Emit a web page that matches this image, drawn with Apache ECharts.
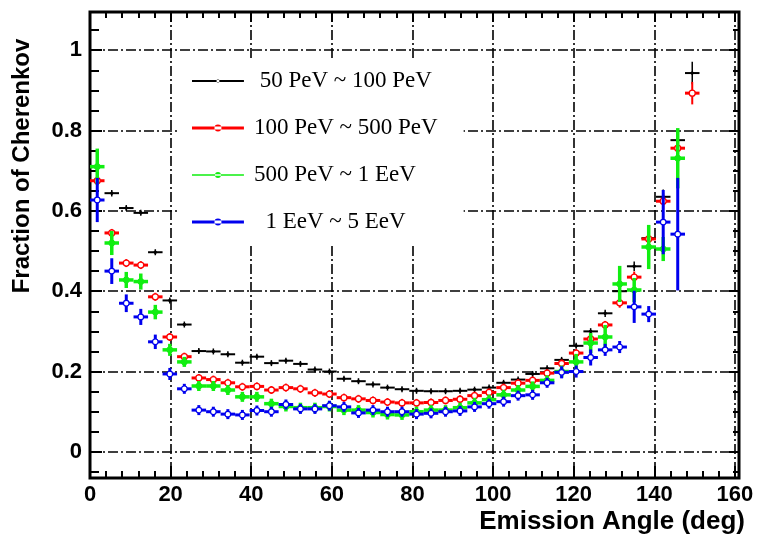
<!DOCTYPE html>
<html>
<head>
<meta charset="utf-8">
<script src="https://cdn.jsdelivr.net/npm/echarts@6/dist/echarts.min.js"></script>
<style>html,body{margin:0;padding:0;background:#fff}#c{width:757px;height:539px}</style>
</head>
<body>
<div id="c"></div>
<script>
// Bin centres (deg) and bin width
const angles = [1.8,5.4,9,12.6,16.2,19.8,23.4,27,30.6,34.2,37.8,41.4,45,48.6,52.2,55.8,59.4,63,66.6,70.2,73.8,77.4,81,84.6,88.2,91.8,95.4,99,102.6,106.2,109.8,113.4,117,120.6,124.2,127.8,131.4,135,138.6,142.2,145.8,149.4];
const binWidth = 3.6;

const seriesNames = ['50 PeV ~ 100 PeV', '100 PeV ~ 500 PeV', '500 PeV ~ 1 EeV', '1 EeV ~ 5 EeV'];
const legendLabels = [' 50 PeV ~ 100 PeV', '100 PeV ~ 500 PeV', '500 PeV ~ 1 EeV', '  1 EeV ~ 5 EeV'];

const black = [null,0.644,0.607,0.595,0.497,0.377,0.317,0.251,0.250,0.243,0.222,0.237,0.221,0.227,0.219,0.205,0.200,0.182,0.176,0.168,0.160,0.156,0.152,0.151,0.151,0.152,0.155,0.160,0.172,0.180,0.194,0.208,0.229,0.264,0.300,0.345,0.400,0.462,0.532,0.635,0.776,0.943];
const blackErr = [0,0.008,0.007,0.007,0.007,0.006,0.005,0.004,0.004,0.004,0.004,0.004,0.004,0.004,0.004,0.004,0.004,0.004,0.004,0.004,0.004,0.004,0.004,0.004,0.004,0.004,0.004,0.004,0.004,0.004,0.005,0.005,0.006,0.007,0.008,0.009,0.010,0.012,0.015,0.018,0.022,0.028];

const red = [0.675,0.545,0.470,0.465,0.386,0.286,0.237,0.184,0.180,0.172,0.162,0.163,0.154,0.160,0.157,0.147,0.144,0.135,0.132,0.128,0.124,0.122,0.122,0.123,0.128,0.131,0.140,0.148,0.160,0.171,0.178,0.196,0.220,0.246,0.281,0.316,0.371,0.435,0.530,0.624,0.756,0.893];
const redErr = [0.012,0.010,0.008,0.008,0.007,0.006,0.005,0.005,0.005,0.005,0.005,0.005,0.005,0.005,0.005,0.005,0.005,0.005,0.005,0.005,0.005,0.005,0.005,0.005,0.005,0.005,0.005,0.005,0.005,0.005,0.006,0.006,0.007,0.008,0.009,0.010,0.012,0.014,0.016,0.020,0.024,0.028];

const green = [0.710,0.520,0.428,0.424,0.348,0.254,0.224,0.164,0.164,0.154,0.137,0.137,0.120,0.113,0.110,0.110,0.113,0.104,0.104,0.098,0.093,0.092,0.100,0.104,0.104,0.110,0.122,0.130,0.142,0.154,0.163,0.178,0.200,0.224,0.271,0.286,0.418,0.403,0.510,0.505,0.731,null];
const greenErr = [0.045,0.030,0.020,0.020,0.018,0.015,0.012,0.010,0.010,0.010,0.008,0.008,0.008,0.008,0.008,0.008,0.008,0.008,0.008,0.008,0.008,0.008,0.008,0.008,0.008,0.008,0.008,0.008,0.008,0.008,0.010,0.012,0.015,0.020,0.025,0.030,0.045,0.030,0.055,0.030,0.075,0];

const blue = [0.627,0.450,0.370,0.336,0.274,0.194,0.157,0.104,0.100,0.094,0.092,0.103,0.100,0.118,0.107,0.107,0.115,0.112,0.097,0.104,0.100,0.100,0.094,0.096,0.100,0.102,0.112,0.120,0.125,0.140,0.142,0.172,0.198,0.200,0.235,0.254,0.261,0.361,0.343,0.572,0.542,null];
const blueErr = [0.055,0.032,0.022,0.020,0.018,0.015,0.012,0.008,0.008,0.008,0.008,0.008,0.008,0.008,0.008,0.008,0.008,0.008,0.008,0.008,0.008,0.008,0.008,0.008,0.008,0.008,0.008,0.008,0.008,0.008,0.010,0.012,0.015,0.015,0.020,0.015,0.015,0.040,0.020,0.080,0.140,0];

function toData(vals, errs) {
  const out = [];
  for (let i = 0; i < angles.length; i++) {
    if (vals[i] !== null) out.push([angles[i], vals[i], errs[i]]);
  }
  return out;
}

function makeRender(cfg) {
  return function (params, api) {
    const x = api.value(0), y = api.value(1), e = api.value(2);
    const l = api.coord([x - binWidth / 2, y]);
    const r = api.coord([x + binWidth / 2, y]);
    const c = api.coord([x, y]);
    const t = api.coord([x, y + e]);
    const b = api.coord([x, y - e]);
    const top = Math.min(t[1], c[1] - cfg.minBar);
    const bot = Math.max(b[1], c[1] + cfg.minBar);
    const children = [
      { type: 'line', shape: { x1: l[0], y1: c[1], x2: r[0], y2: c[1] }, style: { stroke: cfg.color, lineWidth: cfg.hw } },
      { type: 'line', shape: { x1: c[0], y1: top, x2: c[0], y2: bot }, style: { stroke: cfg.color, lineWidth: cfg.vw } },
      { type: 'circle', shape: { cx: c[0], cy: c[1], r: cfg.r }, style: { fill: cfg.fill, stroke: cfg.color, lineWidth: cfg.mw } }
    ];
    return { type: 'group', children: children };
  };
}

const cfgs = [
  { color: '#000000', fill: '#000000', hw: 2, vw: 1.5, r: 1.3, mw: 1, minBar: 3 },
  { color: '#ff0000', fill: '#ffffff', hw: 3, vw: 2, r: 3, mw: 1.3, minBar: 4 },
  { color: '#11ee11', fill: '#11ee11', hw: 3.5, vw: 3.5, r: 3, mw: 1, minBar: 5 },
  { color: '#0000ee', fill: '#ffffff', hw: 3, vw: 3, r: 2.8, mw: 1.2, minBar: 5 }
];
const values = [[black, blackErr], [red, redErr], [green, greenErr], [blue, blueErr]];

const icons = [
  'path://M0,0h0.01v0.01h-0.01z M0,3H52V5H0Z M24.5,4a1.5,1.5 0 1,0 3,0a1.5,1.5 0 1,0 -3,0Z M52,8h0.01v0.01h-0.01z',
  'path://M0,0h0.01v0.01h-0.01z M0,2.5H52V5.5H0Z M22.5,4a3.5,3.5 0 1,0 7,0a3.5,3.5 0 1,0 -7,0Z M52,8h0.01v0.01h-0.01z',
  'path://M0,0h0.01v0.01h-0.01z M0,3.2H52V4.8H0Z M23,4a3,3 0 1,0 6,0a3,3 0 1,0 -6,0Z M52,8h0.01v0.01h-0.01z',
  'path://M0,0h0.01v0.01h-0.01z M0,2.5H52V5.5H0Z M22.5,4a3.5,3.5 0 1,0 7,0a3.5,3.5 0 1,0 -7,0Z M52,8h0.01v0.01h-0.01z'
];

const series = seriesNames.map(function (name, i) {
  return {
    name: name,
    type: 'custom',
    renderItem: makeRender(cfgs[i]),
    encode: { x: 0, y: 1 },
    itemStyle: { color: cfgs[i].color },
    clip: true,
    data: toData(values[i][0], values[i][1]),
    z: 3 + i
  };
});

const tickLabelStyle = { color: '#000', fontFamily: 'Liberation Sans', fontWeight: 'bold', fontSize: 22 };
const gridLine = { show: true, lineStyle: { color: '#000', width: 1.6, type: [10, 3, 2, 3] } };

const option = {
  animation: false,
  backgroundColor: '#ffffff',
  grid: { left: 90, right: 18, top: 12, bottom: 61, show: true, borderColor: '#000', borderWidth: 3 },
  xAxis: [
    {
      type: 'value', min: 0, max: 161, interval: 20, position: 'bottom',
      axisLine: { show: false, onZero: false },
      axisTick: { show: true, inside: true, length: 12, lineStyle: { color: '#000', width: 2 } },
      minorTick: { show: true, splitNumber: 5, length: 7, lineStyle: { color: '#000', width: 2 } },
      axisLabel: Object.assign({ showMaxLabel: false, margin: 6 }, tickLabelStyle),
      splitLine: gridLine
    },
    {
      type: 'value', min: 0, max: 161, interval: 20, position: 'top',
      axisLine: { show: false, onZero: false },
      axisTick: { show: true, inside: true, length: 10, lineStyle: { color: '#000', width: 2 } },
      minorTick: { show: true, splitNumber: 5, length: 6, lineStyle: { color: '#000', width: 2 } },
      axisLabel: { show: false },
      splitLine: { show: false }
    }
  ],
  yAxis: [
    {
      type: 'value', min: -0.065, max: 1.095, position: 'left',
      axisLine: { show: false, onZero: false },
      axisTick: { show: true, inside: true, length: 12, lineStyle: { color: '#000', width: 2 } },
      minorTick: { show: true, splitNumber: 4, length: 9, lineStyle: { color: '#000', width: 2 } },
      axisLabel: Object.assign({ showMinLabel: false, showMaxLabel: false, margin: 8 }, tickLabelStyle),
      splitLine: gridLine
    },
    {
      type: 'value', min: -0.065, max: 1.095, position: 'right',
      axisLine: { show: false, onZero: false },
      axisTick: { show: true, inside: true, length: 10, lineStyle: { color: '#000', width: 2 } },
      minorTick: { show: true, splitNumber: 4, length: 6, lineStyle: { color: '#000', width: 2 } },
      axisLabel: { show: false },
      splitLine: { show: false }
    }
  ],
  legend: {
    left: 178, top: 58, orient: 'vertical',
    padding: [11, 26, 11, 14],
    backgroundColor: '#ffffff',
    itemWidth: 52, itemHeight: 8, itemGap: 23,
    selectedMode: false,
    formatter: function (name) { return legendLabels[seriesNames.indexOf(name)]; },
    textStyle: { fontFamily: 'Liberation Serif', fontSize: 23, lineHeight: 24, color: '#000', padding: [0, 0, 0, 5] },
    data: seriesNames.map(function (n, i) { return { name: n, icon: icons[i], itemStyle: { color: cfgs[i].color } }; })
  },
  graphic: [
    { type: 'text', x: 22, y: 166, rotation: Math.PI / 2,
      style: { text: 'Fraction of Cherenkov', font: 'bold 24px "Liberation Sans"', fill: '#000', align: 'center', verticalAlign: 'middle' } },
    { type: 'text', x: 745, y: 522,
      style: { text: 'Emission Angle (deg)', font: 'bold 26px "Liberation Sans"', fill: '#000', align: 'right', verticalAlign: 'middle' } }
  ],
  series: series
};

const chart = echarts.init(document.getElementById('c'), null, { renderer: 'canvas' });
chart.setOption(option);
</script>
</body>
</html>
